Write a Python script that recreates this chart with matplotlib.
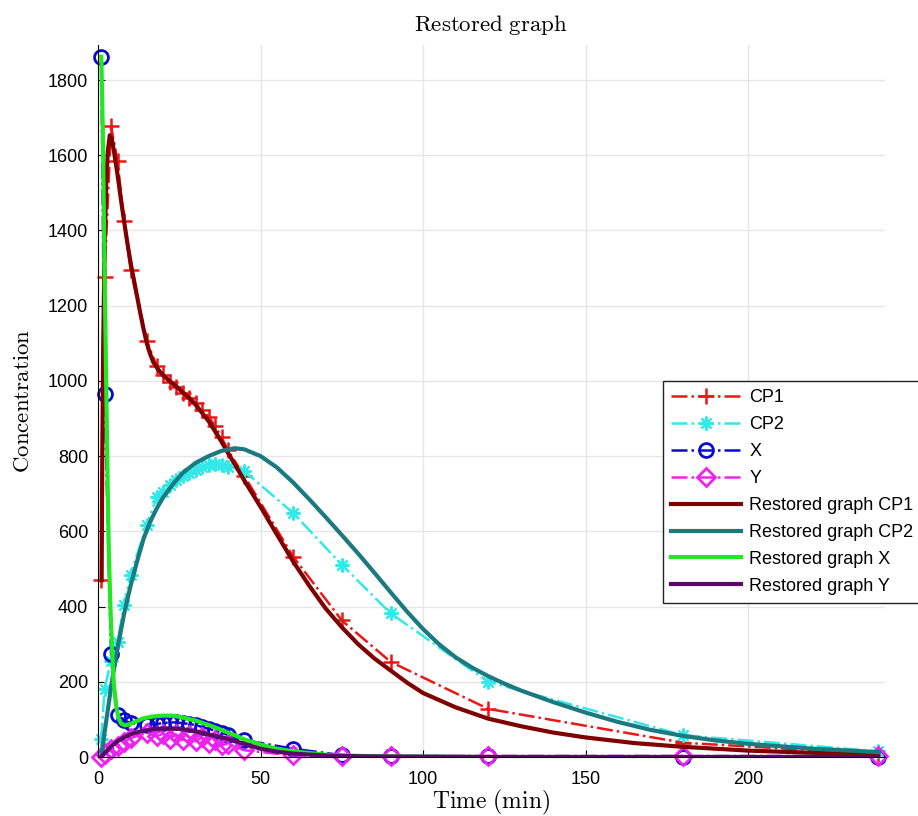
import matplotlib
matplotlib.use('Agg')
import matplotlib.pyplot as plt

# ---------------- data ----------------
times = [1, 2, 4, 6, 8, 10, 15, 18, 20, 22, 24, 26, 28, 30, 32, 34, 36, 38, 40,
         45, 60, 75, 90, 120, 180, 240]
cp1 = [470, 1275, 1677, 1585, 1424, 1296, 1107, 1040, 1015, 998, 985, 968, 955,
       940, 922, 905, 880, 850, 815, 747, 533, 363, 253, 128, 38, 8]
cp2 = [49, 182, 255, 307, 405, 485, 618, 690, 705, 722, 736, 748, 756, 764, 770,
       776, 778, 776, 770, 760, 649, 511, 382, 200, 58, 15]
x_data = [1862, 965, 275, 112, 98, 90, 85, 88, 90, 92, 92, 90, 88, 85, 80, 75,
          70, 65, 58, 45, 22, 5, 3, 2, 1, 1]
y_data = [0, 8, 20, 30, 40, 50, 65, 55, 62, 48, 60, 45, 58, 42, 52, 38, 45, 32,
          35, 18, 4, 3, 3, 3, 3, 3]

r_cp1_t = [1.1, 1.3, 1.6, 2, 2.5, 3, 3.6, 4.2, 5, 6, 7, 8, 9, 10, 11, 12, 13,
           14, 15, 16, 17, 18.5, 20, 22, 24, 26, 28, 30, 32, 34, 36, 38, 40,
           42.5, 45, 47.5, 50, 55, 60, 65, 70, 75, 80, 85, 90, 95, 100, 110,
           120, 130, 140, 150, 165, 180, 200, 220, 240]
r_cp1 = [470, 800, 1100, 1350, 1520, 1610, 1653, 1645, 1605, 1548, 1485, 1425,
         1368, 1315, 1270, 1225, 1180, 1138, 1100, 1072, 1050, 1030, 1015, 1000,
         986, 970, 955, 937, 915, 893, 866, 838, 808, 772, 735, 700, 665, 592,
         520, 455, 395, 345, 300, 262, 230, 198, 170, 132, 102, 82, 65, 52, 37,
         27, 17, 11, 7]

r_cp2_t = [1, 2, 3, 4, 5, 6, 8, 10, 12, 14, 16, 18, 20, 23, 26, 30, 34, 38, 42,
           45, 50, 55, 60, 65, 70, 75, 80, 85, 90, 95, 100, 105, 110, 115, 120,
           125, 130, 140, 150, 160, 170, 180, 190, 200, 220, 240]
r_cp2 = [0, 65, 125, 185, 240, 290, 380, 455, 520, 580, 625, 660, 690, 725, 755,
         782, 800, 814, 821, 818, 800, 770, 730, 685, 638, 590, 541, 490, 438,
         387, 340, 299, 265, 238, 215, 195, 177, 146, 118, 93, 72, 56, 44, 35,
         22, 13]

r_x_t = [1, 1.5, 2, 2.5, 3, 3.3, 3.8, 4.3, 4.8, 5.5, 6.3, 7.2, 8.4, 10, 12,
         14, 17, 20, 23, 26, 30, 35, 40, 45, 50, 55, 60, 70, 80, 90, 120, 240]
r_x = [1862, 1650, 1300, 1000, 700, 550, 400, 290, 200, 140, 102, 88, 84, 88,
       96, 103, 108, 110, 110, 105, 97, 82, 65, 47, 33, 22, 15, 6, 3, 1, 0, 0]

r_y_t = [1, 2, 4, 6, 8, 10, 13, 16, 20, 25, 30, 35, 40, 45, 50, 55, 60, 70, 80,
         90, 120, 240]
r_y = [0, 10, 28, 42, 52, 60, 68, 73, 76, 75, 68, 58, 48, 35, 22, 14, 9, 4, 2,
       1, 0, 0]

x_ticks = [0, 50, 100, 150, 200]
y_ticks = [0, 200, 400, 600, 800, 1000, 1200, 1400, 1600, 1800]

# ---------------- plot ----------------
plt.rcParams['mathtext.fontset'] = 'cm'
plt.rcParams['font.family'] = ['Liberation Sans', 'DejaVu Sans']

fig = plt.figure(figsize=(9.18, 8.16), dpi=100)
ax = fig.add_axes([0.1068, 0.0723, 0.857, 0.8725])

lw_d = 1.8
ax.plot(times, cp1, '-.', color='#f01515', marker='+', ms=11, mew=1.8, lw=lw_d,
        label='CP1', clip_on=False)
ax.plot(times, cp2, '-.', color='#33e8e8', marker=(8, 2, 0), ms=10, mew=1.6,
        lw=lw_d, label='CP2', clip_on=False)
ax.plot(times, x_data, '-.', color='#0a0ad0', marker='o', ms=10, mew=2.0,
        mfc='none', lw=lw_d, label='X', clip_on=False)
ax.plot(times, y_data, '-.', color='#ee22ee', marker='D', ms=9, mew=2.0,
        mfc='none', lw=lw_d, label='Y', clip_on=False)

lw_r = 3.0
ax.plot(r_cp1_t, r_cp1, '-', color='#800000', lw=lw_r, label='Restored graph CP1')
ax.plot(r_cp2_t, r_cp2, '-', color='#1a7a80', lw=lw_r, label='Restored graph CP2')
ax.plot(r_x_t, r_x, '-', color='#22e822', lw=lw_r, label='Restored graph X')
ax.plot(r_y_t, r_y, '-', color='#5a0a66', lw=lw_r, label='Restored graph Y')

ax.set_xlim(0, 242)
ax.set_ylim(0, 1893)
ax.set_xticks(x_ticks)
ax.set_yticks(y_ticks)
ax.grid(True, color='#e6e6e6', lw=1)
ax.set_axisbelow(True)
for s in ['top', 'right']:
    ax.spines[s].set_visible(False)
ax.tick_params(direction='in', length=5, labelsize=13)
ax.tick_params(axis='x', pad=10)
ax.tick_params(axis='y', pad=7)

ax.set_xlabel(r'$\mathrm{Time\ (min)}$', fontsize=17, labelpad=0)
ax.set_ylabel(r'$\mathrm{Concentration}$', fontsize=16.5, labelpad=10)
ax.set_title(r'$\mathrm{Restored\ graph}$', fontsize=16.5, pad=10)

leg = ax.legend(loc='upper left', bbox_to_anchor=(0.718, 0.528),
                fontsize=13, handlelength=3.9, fancybox=False,
                edgecolor='#222222', framealpha=1, borderpad=0.45,
                labelspacing=0.55, handletextpad=0.44, borderaxespad=0)
leg.get_frame().set_linewidth(1.0)

fig.savefig('out.png', dpi=100)
